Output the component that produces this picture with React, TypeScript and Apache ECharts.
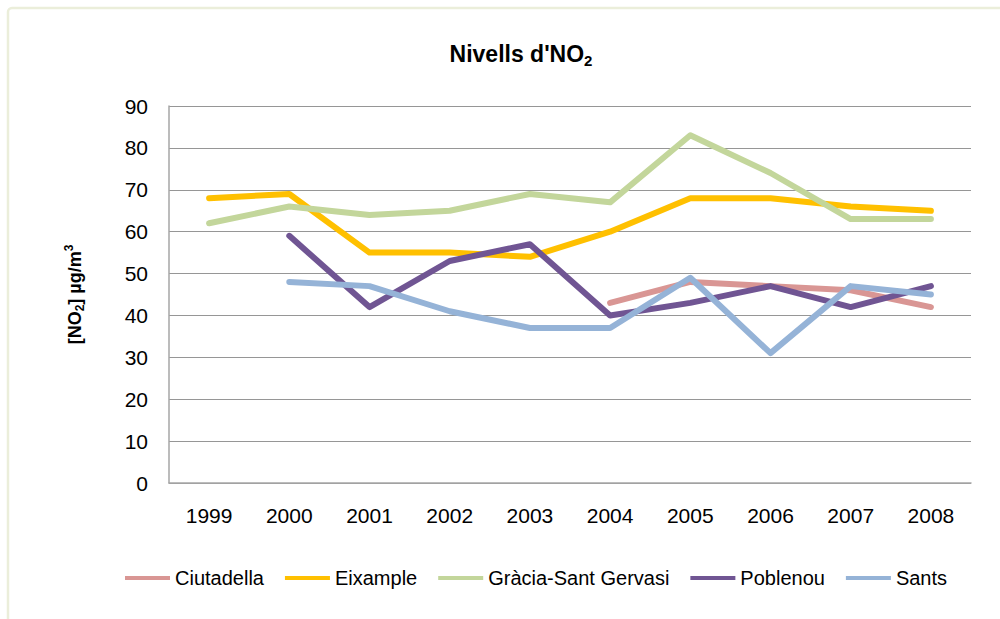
import React, { useEffect, useRef } from "react";
import * as echarts from "echarts";

const years = ["1999", "2000", "2001", "2002", "2003", "2004", "2005", "2006", "2007", "2008"];
const ciutadella = [null, null, null, null, null, 43, 48, 47, 46, 42];
const eixample = [68, 69, 55, 55, 54, 60, 68, 68, 66, 65];
const gracia = [62, 66, 64, 65, 69, 67, 83, 74, 63, 63];
const poblenou = [null, 59, 42, 53, 57, 40, 43, 47, 42, 47];
const sants = [null, 48, 47, 41, 37, 37, 49, 31, 47, 45];

const seriesNames = ["Ciutadella", "Eixample", "Gràcia-Sant Gervasi", "Poblenou", "Sants"];
const seriesData = [ciutadella, eixample, gracia, poblenou, sants];
const colors = ["#D99694", "#FFC000", "#C3D69B", "#705593", "#95B3D7"];

const FONT = "'Liberation Sans', Arial, sans-serif";

export default function App() {
  const ref = useRef<HTMLDivElement>(null);
  useEffect(() => {
    if (!ref.current) return;
    const chart = echarts.init(ref.current, null, { renderer: "svg" });
    chart.setOption({
      animation: false,
      backgroundColor: "#ffffff",
      textStyle: { fontFamily: FONT },
      graphic: [
        {
          type: "rect",
          shape: { x: 8, y: 8, width: 1020, height: 660, r: 4 },
          style: { fill: "none", stroke: "#EBEEDA", lineWidth: 2.5 },
          silent: true,
          z: -10,
        },
      ],
      title: {
        text: "Nivells d'NO{sub|2}",
        left: 516,
        top: 34,
        textAlign: "center",
        textStyle: {
          fontFamily: FONT,
          fontSize: 23,
          fontWeight: "bold",
          color: "#000",
          rich: {
            sub: { fontFamily: FONT, fontSize: 15, fontWeight: "bold", color: "#000", verticalAlign: "bottom", padding: [14, 0, 0, 0] },
          },
        },
      },
      color: colors,
      legend: {
        top: 563,
        left: 120,
        itemWidth: 45,
        itemHeight: 4,
        itemGap: 21,
        icon: "rect",
        textStyle: { fontFamily: FONT, fontSize: 20, color: "#000" },
        data: seriesNames,
      },
      grid: { left: 169, right: 29, top: 106, bottom: 136, containLabel: false },
      xAxis: {
        type: "category",
        data: years,
        boundaryGap: true,
        axisLine: { show: true, lineStyle: { color: "#A6A6A6", width: 1.5 } },
        axisTick: { show: false },
        axisLabel: { fontFamily: FONT, fontSize: 21, color: "#000", margin: 22 },
      },
      yAxis: {
        type: "value",
        min: 0,
        max: 90,
        interval: 10,
        name: "[NO{sub|2}] µg/m{sup|3}",
        nameLocation: "middle",
        nameRotate: 90,
        nameGap: 83,
        nameTextStyle: {
          fontFamily: FONT,
          fontSize: 18,
          fontWeight: "bold",
          color: "#000",
          rich: {
            sub: { fontFamily: FONT, fontSize: 12, fontWeight: "bold", color: "#000", verticalAlign: "bottom", padding: [11, 0, 0, 0] },
            sup: { fontFamily: FONT, fontSize: 12, fontWeight: "bold", color: "#000", verticalAlign: "top", padding: [0, 0, 9, 0] },
          },
        },
        axisLine: { show: true, lineStyle: { color: "#A6A6A6", width: 1.5 } },
        axisTick: { show: false },
        axisLabel: { fontFamily: FONT, fontSize: 21, color: "#000", margin: 21 },
        splitLine: { show: true, lineStyle: { color: "#969696", width: 1 } },
      },
      series: seriesNames.map((name, i) => ({
        name,
        type: "line",
        data: seriesData[i],
        showSymbol: false,
        symbol: "none",
        connectNulls: false,
        lineStyle: { width: 6, color: colors[i], cap: "round", join: "round" },
        itemStyle: { color: colors[i] },
        emphasis: { disabled: true },
        z: 2 + i,
      })),
    });
    return () => chart.dispose();
  }, []);
  return <div ref={ref} style={{ position: "absolute", left: 0, top: 0, width: 1000, height: 619 }} />;
}
